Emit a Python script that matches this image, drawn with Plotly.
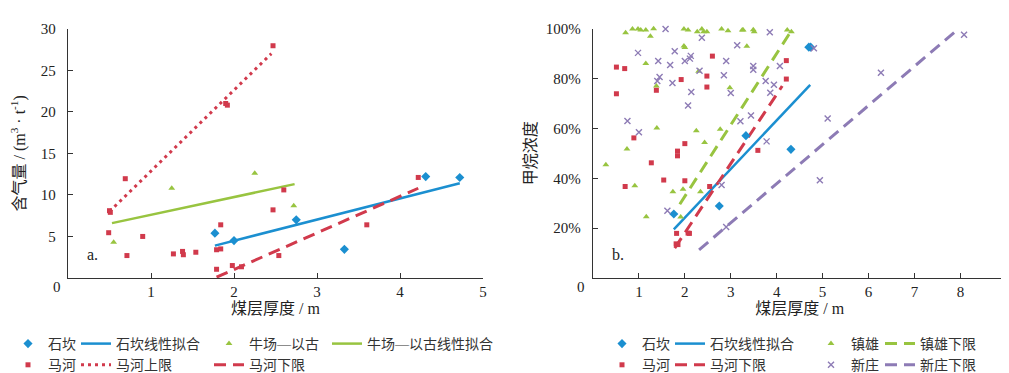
import plotly.graph_objects as go

W, H = 1009, 373


def fx(p):
    return p / W


def fy(p):
    return 1 - p / H


# ---------------- data: chart a (gas content) ----------------
a_shikan_x = [1.77, 2.0, 2.75, 3.33, 4.31, 4.72]
a_shikan_y = [5.4, 4.5, 7.0, 3.45, 12.2, 12.1]
a_shikan_fit_x = [1.77, 4.72]
a_shikan_fit_y = [3.9, 11.4]

a_niuchang_x = [0.55, 1.25, 2.25, 2.72]
a_niuchang_y = [4.3, 10.8, 12.6, 8.7]
a_niuchang_fit_x = [0.53, 2.73]
a_niuchang_fit_y = [6.6, 11.3]

a_mahe_x = [0.50, 0.51, 0.69, 0.49, 0.71, 0.90, 1.27, 1.38, 1.39, 1.54, 1.84, 1.79,
            1.84, 1.79, 1.98, 2.09, 1.90, 1.92, 2.47, 2.60, 2.47, 2.54, 3.60, 4.22]
a_mahe_y = [8.1, 7.9, 11.95, 5.45, 2.7, 5.0, 2.9, 3.2, 2.8, 3.1, 6.4, 3.4,
            3.5, 1.05, 1.5, 1.35, 21.0, 20.8, 27.95, 10.6, 8.2, 2.7, 6.4, 12.1]
a_mahe_upper_x = [0.5, 2.45]
a_mahe_upper_y = [8.0, 27.0]
a_mahe_lower_x = [1.79, 4.22]
a_mahe_lower_y = [0.1, 10.8]

# ---------------- data: chart b (methane concentration) ----------------
b_shikan_x = [1.76, 2.75, 3.33, 4.31, 4.70, 4.74]
b_shikan_y = [0.257, 0.289, 0.571, 0.516, 0.926, 0.926]
b_shikan_fit_x = [1.76, 4.73]
b_shikan_fit_y = [0.195, 0.775]

b_mahe_x = [0.51, 0.69, 0.51, 0.70, 0.89, 1.27, 1.38, 1.54, 1.84, 1.84, 1.92, 2.0, 2.0,
            1.82, 1.81, 1.85, 2.07, 2.10, 2.60, 2.48, 2.48, 2.54, 3.59, 4.21, 4.21]
b_mahe_y = [0.846, 0.840, 0.739, 0.367, 0.562, 0.462, 0.753, 0.393, 0.509, 0.490, 0.796,
            0.539, 0.390, 0.179, 0.137, 0.134, 0.180, 0.179, 0.890, 0.810, 0.766, 0.367,
            0.512, 0.872, 0.798]
b_mahe_lower_x = [1.78, 4.12]
b_mahe_lower_y = [0.12, 0.77]

b_zhenxiong_x = [0.71, 0.86, 0.98, 1.04, 1.15, 1.32, 1.25, 1.98, 2.07, 2.27, 2.37, 2.41,
                 2.48, 2.80, 2.94, 3.25, 3.27, 3.49, 3.51, 4.23, 4.32,
                 0.28, 0.74, 0.91, 1.16, 1.15, 1.38, 1.39, 1.74, 1.91, 1.96, 1.98, 2.0,
                 2.25, 2.30, 2.34, 2.43, 2.77, 2.98, 3.35]
b_zhenxiong_y = [0.984, 0.999, 0.999, 0.995, 0.995, 1.0, 0.970, 0.999, 0.995, 0.988,
                 0.999, 0.988, 0.988, 0.999, 0.992, 0.995, 0.995, 0.996, 0.988, 0.995,
                 0.988,
                 0.454, 0.517, 0.370, 0.246, 0.860, 0.770, 0.602, 0.346, 0.245, 0.356,
                 0.931, 0.925, 0.591, 0.829, 0.346, 0.544, 0.597, 0.763, 0.930]
b_zhenxiong_lower_x = [1.89, 4.32]
b_zhenxiong_lower_y = [0.296, 0.992]

b_xinzhuang_x = [1.58, 2.37, 0.98, 1.78, 2.13, 2.11, 1.42, 2.0, 2.9, 1.68, 3.14, 1.45,
                 1.40, 1.73, 2.14, 2.85, 3.0, 2.07, 2.32, 0.75, 1.0, 3.44, 3.21, 3.78,
                 1.62, 2.80, 2.90, 3.85, 4.81, 4.07, 3.49, 3.49, 3.76, 3.94, 3.86, 5.11,
                 4.94, 6.27, 8.08]
b_xinzhuang_y = [0.999, 0.964, 0.903, 0.910, 0.891, 0.880, 0.870, 0.870, 0.870, 0.854,
                 0.934, 0.806, 0.790, 0.782, 0.746, 0.813, 0.742, 0.692, 0.831, 0.630,
                 0.585, 0.652, 0.629, 0.548, 0.270, 0.373, 0.205, 0.986, 0.922, 0.850,
                 0.850, 0.835, 0.790, 0.775, 0.743, 0.640, 0.392, 0.823, 0.976]
b_xinzhuang_lower_x = [2.31, 7.93]
b_xinzhuang_lower_y = [0.113, 0.995]

a_x_ticks = [1, 2, 3, 4, 5]
a_y_ticks = [5, 10, 15, 20, 25, 30]
a_y_ticktext = ["5", "10", "15", "20", "25", "30"]
b_x_ticks = [1, 2, 3, 4, 5, 6, 7, 8, 9]
b_y_ticks = [0.2, 0.4, 0.6, 0.8, 1.0]
b_y_ticktext = ["20%", "40%", "60%", "80%", "100%"]
origin_label = "0"

# ---------------- style ----------------
FONT = "Liberation Serif, Noto Sans CJK SC, serif"
BLUE = "#1b8fd0"
RED = "#d13a4c"
GREEN = "#98c440"
PURPLE = "#8d7bb5"
AXC = "#333333"
DASH = "12px,7px"

fig = go.Figure()


def markers(x, y, name, color, symbol, size, xa, ya, legend, rank):
    mk = dict(color=color, symbol=symbol, size=size)
    if symbol == "x-thin":
        mk["line"] = dict(color=color, width=1.4)
    fig.add_trace(go.Scatter(x=x, y=y, name=name, mode="markers", marker=mk,
                             cliponaxis=False, xaxis=xa, yaxis=ya, legend=legend,
                             legendrank=rank))


def line(x, y, name, color, dash, width, xa, ya, legend, rank):
    fig.add_trace(go.Scatter(x=x, y=y, name=name, mode="lines",
                             line=dict(color=color, dash=dash, width=width),
                             xaxis=xa, yaxis=ya, legend=legend, legendrank=rank))


# chart a
line(a_shikan_fit_x, a_shikan_fit_y, "石坎线性拟合", BLUE, "solid", 2.5, "x", "y", "legend2", 1)
line(a_niuchang_fit_x, a_niuchang_fit_y, "牛场—以古线性拟合", GREEN, "solid", 2.5, "x", "y", "legend4", 1)
line(a_mahe_upper_x, a_mahe_upper_y, "马河上限", RED, "3px,4px", 3, "x", "y", "legend2", 2)
line(a_mahe_lower_x, a_mahe_lower_y, "马河下限", RED, DASH, 3, "x", "y", "legend3", 2)
markers(a_shikan_x, a_shikan_y, "石坎", BLUE, "diamond", 7, "x", "y", "legend", 1)
markers(a_niuchang_x, a_niuchang_y, "牛场—以古", GREEN, "triangle-up", 6, "x", "y", "legend3", 1)
markers(a_mahe_x, a_mahe_y, "马河", RED, "square", 5, "x", "y", "legend", 2)

# chart b
line(b_shikan_fit_x, b_shikan_fit_y, "石坎线性拟合", BLUE, "solid", 2.5, "x2", "y2", "legend6", 1)
line(b_zhenxiong_lower_x, b_zhenxiong_lower_y, "镇雄下限", GREEN, DASH, 3, "x2", "y2", "legend8", 1)
line(b_mahe_lower_x, b_mahe_lower_y, "马河下限", RED, DASH, 3, "x2", "y2", "legend6", 2)
line(b_xinzhuang_lower_x, b_xinzhuang_lower_y, "新庄下限", PURPLE, DASH, 3, "x2", "y2", "legend8", 2)
markers(b_shikan_x, b_shikan_y, "石坎", BLUE, "diamond", 7, "x2", "y2", "legend5", 1)
markers(b_zhenxiong_x, b_zhenxiong_y, "镇雄", GREEN, "triangle-up", 6, "x2", "y2", "legend7", 1)
markers(b_mahe_x, b_mahe_y, "马河", RED, "square", 5, "x2", "y2", "legend5", 2)
markers(b_xinzhuang_x, b_xinzhuang_y, "新庄", PURPLE, "x-thin", 6, "x2", "y2", "legend7", 2)

tickfont = dict(family=FONT, size=15, color="#222222")
titlefont = dict(family=FONT, size=16, color="#222222")
axis_common = dict(showline=True, linecolor=AXC, linewidth=1.3, ticks="inside",
                   ticklen=5, tickwidth=1.3, tickcolor=AXC, showgrid=False,
                   zeroline=False, tickfont=tickfont, automargin=False,
                   fixedrange=True)

layout = dict(
    width=W, height=H,
    margin=dict(l=0, r=0, t=0, b=0),
    paper_bgcolor="white", plot_bgcolor="white",
    font=dict(family=FONT),
    xaxis=dict(domain=[fx(60), fx(475)], range=[0, 5], tickvals=a_x_ticks,
               anchor="y", title=dict(text="煤层厚度 / m", font=titlefont, standoff=3),
               **axis_common),
    yaxis=dict(domain=[fy(270), fy(20.7)], range=[0, 30], tickvals=a_y_ticks,
               ticktext=a_y_ticktext, anchor="x", ticklabelstandoff=8,
               title=dict(text="含气量 / (m<sup>3</sup> · t<sup>-1</sup>)",
                          font=titlefont, standoff=15),
               **axis_common),
    xaxis2=dict(domain=[fx(585), fx(998.3)], range=[0, 9], tickvals=b_x_ticks,
                anchor="y2", title=dict(text="煤层厚度 / m", font=titlefont, standoff=3),
                **axis_common),
    yaxis2=dict(domain=[fy(270), fy(20.7)], range=[0, 1], tickvals=b_y_ticks,
                ticktext=b_y_ticktext, anchor="x2", ticklabelstandoff=8,
                title=dict(text="甲烷浓度", font=titlefont, standoff=5),
                **axis_common),
    showlegend=True,
)

leg_common = dict(orientation="v", xanchor="left", yanchor="top", y=fy(320),
                  bgcolor="rgba(0,0,0,0)", font=dict(family=FONT, size=14, color="#333333"),
                  itemwidth=30, tracegroupgap=0, traceorder="normal")
leg_x = {"legend": 0, "legend2": 68, "legend3": 201, "legend4": 319,
         "legend5": 594, "legend6": 662, "legend7": 803, "legend8": 872}
for k, v in leg_x.items():
    layout[k] = dict(x=fx(v), **leg_common)

fig.update_layout(**layout)

# origin "0" labels and panel letters
for xp in (49, 573):
    fig.add_annotation(x=fx(xp), y=fy(279), xref="paper", yref="paper", text=origin_label,
                       showarrow=False, font=tickfont, xanchor="center", yanchor="middle")
fig.add_annotation(x=0.3, y=2.8, xref="x", yref="y", text="a.", showarrow=False,
                   font=dict(family=FONT, size=16, color="#222222"))
fig.add_annotation(x=0.545, y=0.093, xref="x2", yref="y2", text="b.", showarrow=False,
                   font=dict(family=FONT, size=16, color="#222222"))

fig.write_html("out.html")
